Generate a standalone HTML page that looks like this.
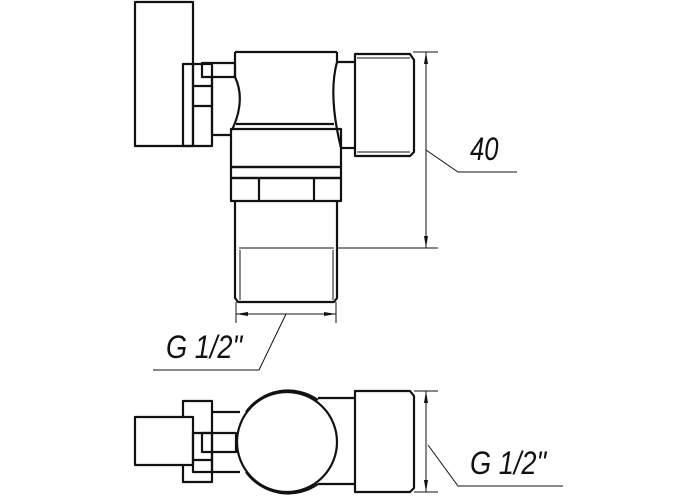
<!DOCTYPE html>
<html><head><style>html,body{margin:0;padding:0;background:#fff}svg{display:block}
text{font-family:"Liberation Sans",sans-serif;fill:#111}</style></head><body>
<svg width="700" height="500" viewBox="0 0 700 500" xmlns="http://www.w3.org/2000/svg">
<defs>
<marker id="a" viewBox="0 0 12 4" refX="12" refY="2" markerWidth="12" markerHeight="4" orient="auto-start-reverse" markerUnits="userSpaceOnUse"><path d="M0,0 L12,2 L0,4 Z" fill="#111"/></marker>
</defs>
<g fill="none" stroke="#111" stroke-width="2.2" stroke-linejoin="round">
<!-- top view -->
<rect x="135" y="2" width="58" height="144"/>
<rect x="183" y="64" width="29" height="82"/>
<line x1="193" y1="64" x2="193" y2="146"/>
<line x1="193" y1="86" x2="212" y2="86"/>
<line x1="193" y1="106" x2="212" y2="106"/>
<path d="M202,63 H235 V77 H202 Z"/>
<path d="M212,77 V135 H230"/>
<path d="M235,52 H337"/>
<path d="M235,52 V77 Q246,100 232,130"/>
<path d="M337,52 V62 Q328,95 341,148"/>
<line x1="236" y1="124" x2="334" y2="124"/>
<rect x="231" y="129" width="110" height="38"/>
<rect x="231" y="167" width="110" height="11"/>
<rect x="231" y="178" width="110" height="23"/>
<line x1="259" y1="178" x2="259" y2="201"/>
<line x1="314" y1="178" x2="314" y2="201"/>
<path d="M235,201 V298 L238,302 H334 L337,298 V201"/>
<path d="M337,62 H355"/>
<path d="M341,148 H355"/>
<path d="M355,54 H410 L414,60 V152 L410,156 H355 Z"/>
<!-- bottom view -->
<rect x="183" y="401" width="29" height="81"/>
<rect x="135" y="417" width="58" height="48" fill="#fff"/>
<rect x="193" y="433" width="19" height="39"/>
<line x1="193" y1="460" x2="212" y2="460"/>
<path d="M212,412 H240 M212,472 H240"/>
<path d="M202,433 H236 V452 H202 Z"/>
<circle cx="287" cy="442" r="50" fill="#fff"/>
<path d="M246,412 A52,52 0 0 1 318,400 M246,472 A52,52 0 0 0 318,484"/>
<path d="M318,398 H355 M318,484 H355"/>
<path d="M355,391 H410 L414,396 V488 L410,492 H355 Z"/>
</g>
<g fill="none" stroke="#111" stroke-width="1">
<line x1="239" y1="248" x2="334" y2="248"/>
<line x1="240" y1="250" x2="240" y2="300"/>
<line x1="333" y1="250" x2="333" y2="300"/>
<line x1="357" y1="58" x2="410" y2="58"/>
<line x1="357" y1="152" x2="410" y2="152"/>
<line x1="413" y1="52" x2="438" y2="52"/>
<line x1="337" y1="248" x2="438" y2="248"/>
<line x1="426" y1="52" x2="426" y2="248" marker-start="url(#a)" marker-end="url(#a)"/>
<polyline points="426,150 458,172 517,172"/>
<line x1="236" y1="302" x2="236" y2="323"/>
<line x1="336" y1="302" x2="336" y2="323"/>
<line x1="236" y1="314" x2="336" y2="314" marker-start="url(#a)" marker-end="url(#a)"/>
<polyline points="286,314 259,370 153,370"/>
<line x1="414" y1="391" x2="438" y2="391"/>
<line x1="414" y1="492" x2="438" y2="492"/>
<line x1="426" y1="391" x2="426" y2="492" marker-start="url(#a)" marker-end="url(#a)"/>
<polyline points="428,445 458,486 563,486"/>
</g>
<text font-size="32" font-style="italic" transform="translate(470 160) scale(0.8 1)">40</text>
<text font-size="32" font-style="italic" transform="translate(166 358) scale(0.85 1)">G 1/2"</text>
<text font-size="32" font-style="italic" transform="translate(470 474) scale(0.85 1)">G 1/2"</text>
</svg>
</body></html>
